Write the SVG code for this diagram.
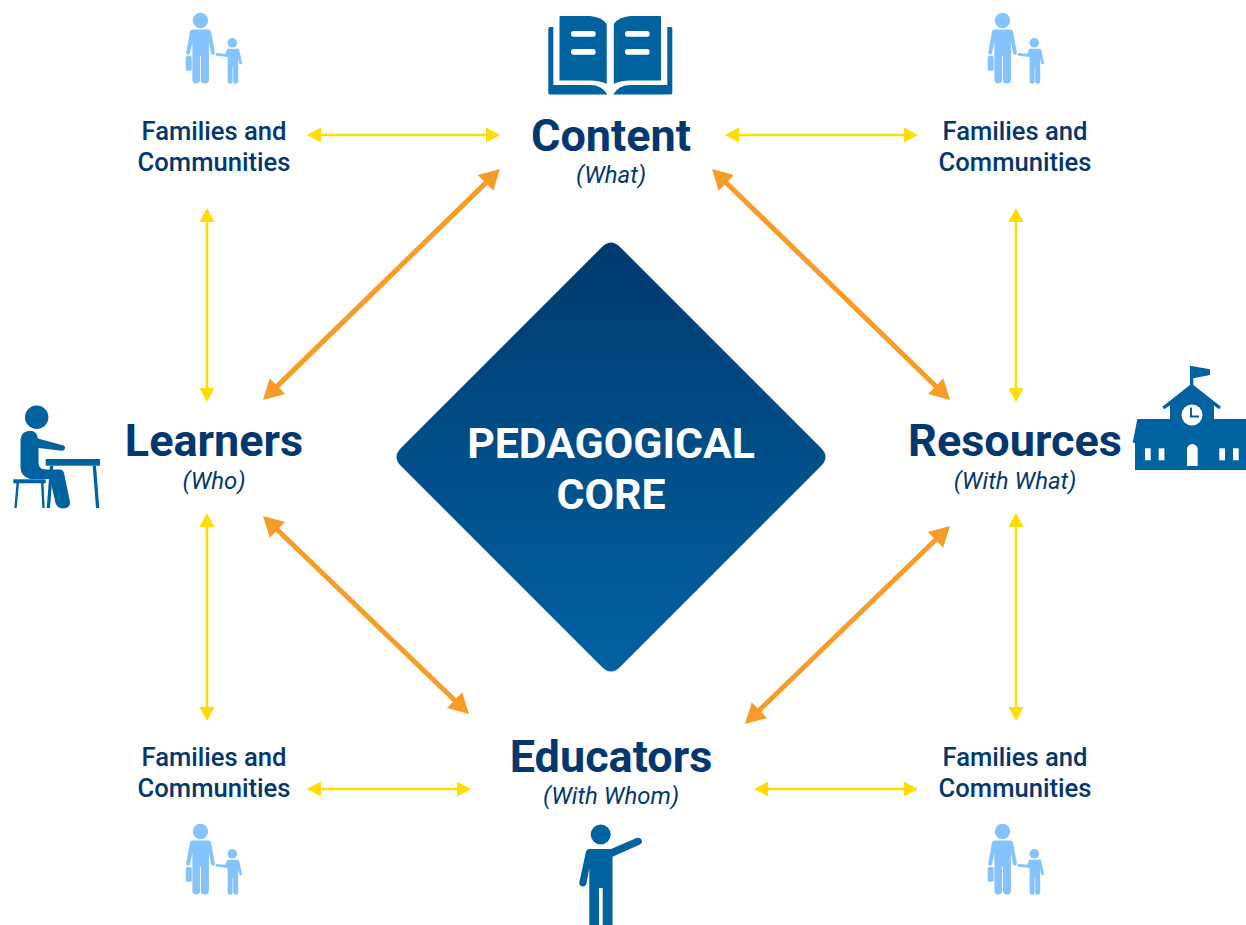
<svg xmlns="http://www.w3.org/2000/svg" xmlns:xlink="http://www.w3.org/1999/xlink" width="1246" height="925" viewBox="0 0 1246 925">
<style>
text{font-family:Roboto,"Liberation Sans",sans-serif;fill:#03376d;text-anchor:middle}
.h{font-size:45px;font-weight:700}
.s{font-size:24px;font-style:italic;font-weight:400}
.f{font-size:25.6px;font-weight:500}
.c{font-size:42.8px;font-weight:700;fill:#fff}
.o{stroke:#f69c27;stroke-width:5;fill:none;marker-start:url(#ao);marker-end:url(#ao)}
.y{stroke:#ffdd00;stroke-width:2.5;fill:none;marker-start:url(#ay);marker-end:url(#ay)}
.i{fill:#00629f}
.l{fill:#85c3ff}
.w{fill:#fff}
</style>
<defs>
<linearGradient id="g" gradientUnits="userSpaceOnUse" x1="0" y1="243" x2="0" y2="671"><stop offset="0" stop-color="#003a70"/><stop offset="1" stop-color="#00629f"/></linearGradient>
<marker id="ao" viewBox="0 0 20 22" refX="2" refY="11" markerWidth="20" markerHeight="22" markerUnits="userSpaceOnUse" orient="auto-start-reverse"><path d="M0,0L20,11L0,22Z" fill="#f69c27"/></marker>
<marker id="ay" viewBox="0 0 14 15" refX="2" refY="7.5" markerWidth="14" markerHeight="15" markerUnits="userSpaceOnUse" orient="auto-start-reverse"><path d="M0,0L14,7.5L0,15Z" fill="#ffdd00"/></marker>
<g id="fam">
<circle class="l" cx="200.5" cy="20.5" r="7.7"/>
<path class="l" d="M192.5,29.5H208.5Q210.5,29.5 211,31.5L214.8,52Q215,54.8 212.9,54.8Q211.4,54.8 211,53L208.9,42V80A4,3.4 0 0 1 200.9,80V56H200V80A3.8,3.4 0 0 1 192.4,80V42L190,53Q189.5,54.8 188,54.8Q186,54.8 186.3,52L190,31.5Q190.5,29.5 192.5,29.5Z"/>
<rect class="l" x="185.7" y="56" width="6" height="14.7" rx="1.5"/>
<circle class="l" cx="232.3" cy="42.8" r="4.8"/>
<path class="l" d="M228,48.7H237.5Q238.8,48.7 239.2,50L242,62.5Q242.2,64.3 240.8,64.4Q239.6,64.5 239.2,63L238.2,58V81.5A2.5,2.2 0 0 1 233.2,81.5V67H232.6V81.5A2.5,2.2 0 0 1 227.6,81.5V57L216.5,55.8Q215.3,55.4 215.5,54.2Q215.8,53 217,53L225.5,53.7L226.7,50Q227,48.7 228,48.7Z"/>
</g>
</defs>
<g id="connectors">
<path class="o" d="M487.1,181.6L275.9,387.4"/>
<path class="o" d="M724.9,181.5L937.1,387.5"/>
<path class="o" d="M276,528.5L456,701.5"/>
<path class="o" d="M937,538.5L758,711.5"/>
<path class="y" d="M319,135H488"/>
<path class="y" d="M737,135H906"/>
<path class="y" d="M207,220V390"/>
<path class="y" d="M1016,220V390"/>
<path class="y" d="M207,525V709"/>
<path class="y" d="M1016,525V709"/>
<path class="y" d="M319,789H459"/>
<path class="y" d="M766,789H906"/>
</g>
<g id="core">
<path d="M602,247Q611,238 620,247L821,448Q830,457 821,466L620,667Q611,676 602,667L401,466Q392,457 401,448Z" fill="url(#g)"/>
<text class="c" x="611" y="458">PEDAGOGICAL</text>
<text class="c" x="611" y="509">CORE</text>
</g>
<g id="content">
<path class="i" d="M559.5,17Q559.5,16 560.5,16H590Q602,17 606.7,24V84Q601,80.5 590,80.5H559.5Z"/>
<path class="i" d="M661,17Q661,16 660,16H630.5Q618.5,17 613.8,24V84Q619.5,80.5 630.5,80.5H661Z"/>
<path class="i" d="M548.3,29Q548.3,27 550,27H553.3V85H590Q602,85 607.5,94.5H550Q548.3,94.5 548.3,93Z"/>
<path class="i" d="M672.3,29Q672.3,27 670.6,27H667.3V85H630.6Q618.6,85 613.1,94.5H670.6Q672.3,94.5 672.3,93Z"/>
<g class="w"><rect x="571" y="31" width="24.7" height="5.7" rx="2.8"/><rect x="571" y="49" width="24.7" height="5.7" rx="2.8"/><rect x="625" y="31" width="24.7" height="5.7" rx="2.8"/><rect x="625" y="49" width="24.7" height="5.7" rx="2.8"/></g>
<text class="h" x="611" y="151">Content</text>
<text class="s" x="611" y="183">(What)</text>
</g>
<g id="learners">
<circle class="i" cx="36.7" cy="417.3" r="11.7"/>
<path class="i" d="M30,430.7Q37,431 38,438.5L61.7,445Q65,445.5 65,447.7Q65,450.7 61.7,450.7L38.5,448V464Q39,469 46,469.5H60Q63,469.5 64,473L70,502Q70.5,508 63,508.5Q57,508 55.5,503L50,479H30Q21,476 20.5,468V440Q21,431 30,430.7Z"/>
<rect class="i" x="45.7" y="459" width="54.3" height="6.7"/>
<path class="i" d="M92.7,465.7H96L99.3,508H96ZM50,465.7H53.3L50,508H46.7Z"/>
<rect class="i" x="13.3" y="479.3" width="32.4" height="4"/>
<path class="i" d="M16.5,483H19L16.7,508H14.3ZM41,483H43.5L44.7,508H42.3Z"/>
<text class="h" x="214" y="456">Learners</text>
<text class="s" x="214" y="489">(Who)</text>
</g>
<g id="resources">
<path class="i" d="M1190,365.7L1210,369.3V375L1193.3,378.3V385L1221,406.7L1219,409.3L1214,405.5V419H1246V470H1135V442.7H1132.7L1137.3,419H1170V405.5L1164.3,409.3L1162.3,406.7L1190,385Z"/>
<circle class="w" cx="1192" cy="415" r="10.5"/>
<path d="M1191,407.5V416.5H1199" fill="none" stroke="#00629f" stroke-width="2"/>
<g class="w"><rect x="1145" y="448.3" width="5.7" height="12"/><rect x="1158.7" y="448.3" width="5.7" height="12"/><rect x="1219.3" y="448.3" width="5.7" height="12"/><rect x="1233" y="448.3" width="5.7" height="12"/><path d="M1187,466V449.3A5.35,5.35 0 0 1 1197.7,449.3V466Z"/></g>
<text class="h" x="1015" y="456">Resources</text>
<text class="s" x="1015" y="489">(With What)</text>
</g>
<g id="educators">
<text class="h" x="611" y="772">Educators</text>
<text class="s" x="611" y="804">(With Whom)</text>
<circle class="i" cx="600.7" cy="834.5" r="10"/>
<path class="i" d="M589,849H611L636.5,838Q640,837 641.5,839.5Q643,842.5 640,844.5L612.5,856.7V925H602.7V888H599V925H589.3V868L586.5,883.5Q585.5,886.7 582.5,886.5Q579,886 579.3,882.5L586,851.5Q586.8,849 589,849Z"/>
</g>
<g id="fam-tl"><use xlink:href="#fam" href="#fam"/><text class="f" x="214" y="140">Families and</text><text class="f" x="214" y="171">Communities</text></g>
<g id="fam-tr"><use xlink:href="#fam" href="#fam" x="802"/><text class="f" x="1015" y="140">Families and</text><text class="f" x="1015" y="171">Communities</text></g>
<g id="fam-bl"><use xlink:href="#fam" href="#fam" y="811"/><text class="f" x="214" y="766">Families and</text><text class="f" x="214" y="797">Communities</text></g>
<g id="fam-br"><use xlink:href="#fam" href="#fam" x="802" y="811"/><text class="f" x="1015" y="766">Families and</text><text class="f" x="1015" y="797">Communities</text></g>
</svg>
